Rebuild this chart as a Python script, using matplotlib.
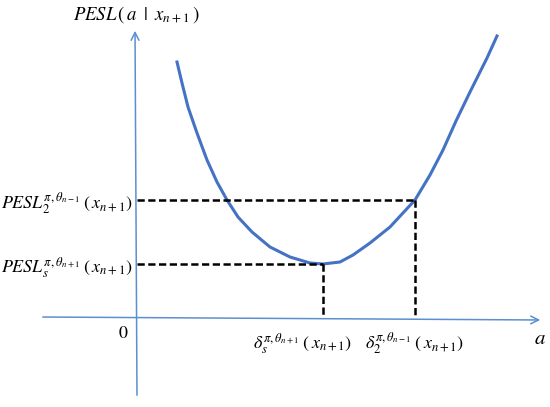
import matplotlib
matplotlib.use('Agg')
from matplotlib import pyplot as plt

plt.rcParams['mathtext.fontset'] = 'stix'
plt.rcParams['font.family'] = ['STIXGeneral', 'DejaVu Serif']

# curve, origin at the axes crossing
a_vals = [41, 46, 52, 61, 71, 81, 91, 102, 116, 134, 154, 174, 187,
          204, 217, 234, 254, 279, 294, 307, 320, 334, 351, 361]
pesl_vals = [256, 235, 211, 185, 158, 136, 118, 101, 86, 71, 61, 55, 54,
             56, 63, 75, 91, 118, 143, 168, 197, 226, 260, 282]

# the two marked points (delta_s, PESL_s) and (delta_2, PESL_2)
marks_a = [187, 279]
marks_pesl = [54, 118]
mark_labels_y = [r'$PESL_s^{\pi,\theta_{n+1}}\;\left(\,x_{n+1}\right)$',
                 r'$PESL_2^{\pi,\theta_{n-1}}\;\left(\,x_{n+1}\right)$']
mark_labels_x = [r'$\delta_s^{\pi,\theta_{n+1}}\;\left(\,x_{n+1}\right)$',
                 r'$\delta_2^{\pi,\theta_{n-1}}\;\left(\,x_{n+1}\right)$']
label_x_pos = [167, 279]

axis_col = '#5B8FD0'
curve_col = '#4472C4'

fig = plt.figure(figsize=(5.5, 4.07), dpi=100)
ax = fig.add_axes([0, 0, 1, 1])
ax.set_xlim(-136, 414)
ax.set_ylim(-89, 318)
ax.axis('off')

# axes with arrows
ax.annotate('', xy=(407, -2), xytext=(-96, 1),
            arrowprops=dict(arrowstyle='->', color=axis_col, lw=1.1, mutation_scale=14))
ax.annotate('', xy=(-1, 290), xytext=(1, -80),
            arrowprops=dict(arrowstyle='->', color=axis_col, lw=1.1, mutation_scale=14))

ax.plot(a_vals, pesl_vals, color=curve_col, lw=2.2, solid_joinstyle='round')

for xa, yp in zip(marks_a, marks_pesl):
    ax.plot([1, xa], [yp, yp], color='black', lw=1.8, ls=(0, (2.9, 1.4)))
    ax.plot([xa, xa], [yp, 0], color='black', lw=1.8, ls=(0, (2.9, 1.4)))

for yp, lab in zip(marks_pesl, mark_labels_y):
    ax.text(-3, yp - 4, lab, ha='right', va='center', fontsize=13)
for xl, lab in zip(label_x_pos, mark_labels_x):
    ax.text(xl, -26, lab, ha='center', va='center', fontsize=13)

ax.text(0, 303, r'$PESL\,\left(\,a\;\;|\;\;x_{n+1}\,\right)$', ha='center', va='center', fontsize=13.5)
ax.text(-13, -16, '0', ha='center', va='center', fontsize=13)
ax.text(404, -21, r'$a$', ha='center', va='center', fontsize=15)

fig.savefig('out.png', dpi=100)
